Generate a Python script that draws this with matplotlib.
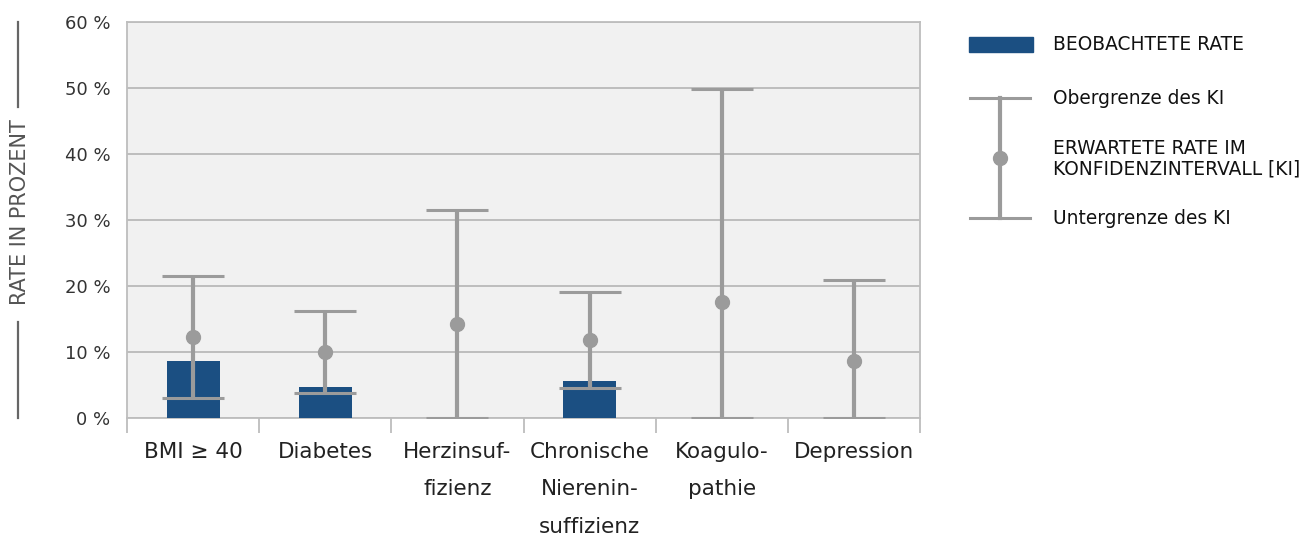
import numpy as np
import matplotlib
matplotlib.use('Agg')
import matplotlib.pyplot as plt
from matplotlib.patches import Rectangle
from matplotlib.lines import Line2D

categories = ['BMI ≥ 40', 'Diabetes', 'Herzinsuf-\nfizienz', 'Chronische\nNierenin-\nsuffizienz',
              'Koagulo-\npathie', 'Depression']
observed = [8.6, 4.7, 0.0, 5.6, 0.0, 0.0]
expected = [12.3, 10.0, 14.2, 11.8, 17.6, 8.6]
ci_low = [3.0, 3.8, 0.0, 4.5, 0.0, 0.0]
ci_high = [21.5, 16.2, 31.5, 19.1, 49.8, 20.9]
yticks = [0, 10, 20, 30, 40, 50, 60]

bar_color = '#1b4f82'
err_color = '#9b9b9b'
grid_color = '#bdbdbd'

W, H = 1301, 535
fig = plt.figure(figsize=(W / 100, H / 100), dpi=100)
ax = fig.add_axes([127 / W, 1 - 418 / H, (920 - 127) / W, (418 - 22) / H])
ax.set_facecolor('#f1f1f1')

x = np.arange(len(categories))
ax.bar(x, observed, width=0.4, color=bar_color, zorder=3)
exp = np.array(expected)
ax.errorbar(x, exp, yerr=[exp - np.array(ci_low), np.array(ci_high) - exp],
            fmt='o', color=err_color, ecolor=err_color, elinewidth=3, capsize=22,
            capthick=2.2, markersize=10, zorder=4)

ax.set_xlim(-0.5, len(categories) - 0.5)
ax.set_ylim(0, 60)
ax.set_yticks(yticks)
ax.set_yticklabels([f'{v} %' for v in yticks], fontsize=13, color='#333333')
ax.yaxis.grid(True, color=grid_color, linewidth=1.4, zorder=0)
ax.tick_params(axis='y', length=0, pad=12)

ax.set_xticks(x)
ax.set_xticklabels(categories, fontsize=15.5, color='#222222', linespacing=2.1)
ax.set_xticks(np.arange(len(categories) + 1) - 0.5, minor=True)
ax.tick_params(axis='x', which='major', length=0, pad=17)
ax.tick_params(axis='x', which='minor', length=11, width=1.3, color=grid_color)
for s in ax.spines.values():
    s.set_color(grid_color)
    s.set_linewidth(1.3)

# overlay for y-label decoration and legend, in pixel coords
ov = fig.add_axes([0, 0, 1, 1])
ov.set_xlim(0, W)
ov.set_ylim(H, 0)
ov.axis('off')
ov.add_line(Line2D([18, 18], [22, 107], color='#666666', lw=1.6))
ov.add_line(Line2D([18, 18], [322, 418], color='#666666', lw=1.6))
ov.text(20, 212, 'RATE IN PROZENT', rotation=90, ha='center', va='center',
        fontsize=15, color='#555555')

fs = 13.4
ov.add_patch(Rectangle((969, 37), 64, 15, color=bar_color))
ov.text(1053, 45, 'BEOBACHTETE RATE', fontsize=fs, va='center', color='#111111')
ov.add_line(Line2D([1000, 1000], [98, 218], color=err_color, lw=3))
ov.add_line(Line2D([970, 1030], [98, 98], color=err_color, lw=2.2))
ov.add_line(Line2D([970, 1030], [218, 218], color=err_color, lw=2.2))
ov.plot([1000], [158], 'o', color=err_color, markersize=10)
ov.text(1053, 98, 'Obergrenze des KI', fontsize=fs, va='center', color='#111111')
ov.text(1053, 159, 'ERWARTETE RATE IM\nKONFIDENZINTERVALL [KI]', fontsize=fs,
        va='center', color='#111111', linespacing=1.1)
ov.text(1053, 218, 'Untergrenze des KI', fontsize=fs, va='center', color='#111111')

fig.savefig('out.png', dpi=100)
